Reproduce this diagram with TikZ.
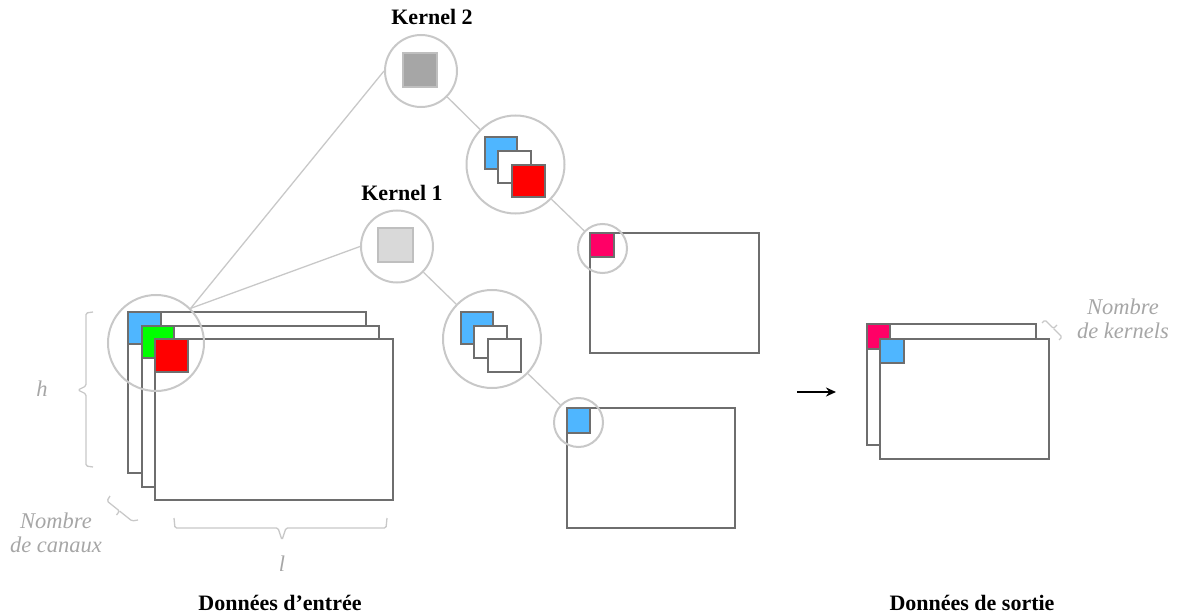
\documentclass[tikz,border=0pt]{standalone}
\usepackage{fontspec}
\setmainfont{Liberation Serif}
\usetikzlibrary{arrows.meta}
\definecolor{dgray}{HTML}{6E6E6E}
\definecolor{lgray}{HTML}{C8C8C8}
\definecolor{tgray}{HTML}{A6A6A6}
\definecolor{cblue}{HTML}{4FB6FF}
\definecolor{cgreen}{HTML}{00FF00}
\definecolor{cred}{HTML}{FF0000}
\definecolor{cpink}{HTML}{FF0066}
\definecolor{kdark}{HTML}{A6A6A6}
\definecolor{klight}{HTML}{D9D9D9}
\definecolor{kborder}{HTML}{BFBFBF}
\tikzset{
  fmap/.style={draw=dgray, line width=2pt, fill=white},
  cell/.style={draw=dgray, line width=2pt},
  ring/.style={circle, draw=lgray, line width=2pt, inner sep=0pt},
  link/.style={draw=lgray, line width=1.3pt},
  brc/.style={draw=lgray, line width=1.3pt, rounded corners=1.5pt},
  boldlabel/.style={font=\fontsize{22}{26}\selectfont\bfseries, inner sep=0pt},
  itlabel/.style={font=\fontsize{22.5}{24}\selectfont\itshape, text=tgray, inner sep=0pt, align=center},
}
\begin{document}
\begin{tikzpicture}[x=1pt,y=-1pt]
\useasboundingbox (0,0) rectangle (1179,615);

% ---------- input stack ----------
\draw[fmap] (128,312) rectangle (366,473);
\fill[cblue] (128,312) rectangle (161,344);
\draw[cell] (128,312) rectangle (161,344);
\draw[fmap] (142,326) rectangle (379,487);
\fill[cgreen] (142,326) rectangle (174,358);
\draw[cell] (142,326) rectangle (174,358);
\draw[fmap] (155,339) rectangle (393,500);
\fill[cred] (155,339) rectangle (188,372);
\draw[cell] (155,339) rectangle (188,372);
\node[ring, minimum size=96pt] (in) at (156,343) {};

% braces of input
\draw[brc] (93,312) -- (86,313) -- (86,386) -- (78,390) -- (86,394) -- (86,466) -- (93,467);
\draw[brc] (174,518) -- (175,528) -- (278,528) -- (282,540) -- (286,528) -- (386,528) -- (387,518);
\draw[brc] (110,496) -- (107,501) -- (119.5,511) -- (116.5,515);
\draw[brc] (119.5,511) -- (132,521) -- (138,520);
\node[itlabel] (hlab) at (42,389) {h};
\node[itlabel] (llab) at (282,564) {l};
\node[itlabel] (canaux) at (56,533) {Nombre\\de canaux};
\node[boldlabel] (inlab) at (280,603) {Données d’entrée};

% ---------- kernel 2 ----------
\node[ring, minimum size=72pt] (k2) at (421,71) {};
\draw[fill=kdark, draw=kborder, line width=2pt] (403,53) rectangle (437,87);
\node[boldlabel] (k2lab) at (432,17) {Kernel 2};
\draw[cell, fill=cblue] (485,137) rectangle (517,169);
\draw[cell, fill=white] (498,151) rectangle (531,183);
\draw[cell, fill=cred] (512,165) rectangle (545,197);
\node[ring, minimum size=98pt] (c2) at (515.5,164.5) {};
\draw[fmap] (590,233) rectangle (759,353);
\draw[cell, fill=cpink] (590,233) rectangle (614,257);
\node[ring, minimum size=49pt] (o1) at (602.5,248.5) {};

% ---------- kernel 1 ----------
\node[ring, minimum size=72pt] (k1) at (397,246.5) {};
\draw[fill=klight, draw=kborder, line width=2pt] (378,228) rectangle (413,262);
\node[boldlabel] (k1lab) at (402,193) {Kernel 1};
\draw[cell, fill=cblue] (461,312) rectangle (493,344);
\draw[cell, fill=white] (474,326) rectangle (507,358);
\draw[cell, fill=white] (488,339) rectangle (521,372);
\node[ring, minimum size=98pt] (c1) at (492,339) {};
\draw[fmap] (567,408) rectangle (735,528);
\draw[cell, fill=cblue] (567,408) rectangle (590,433);
\node[ring, minimum size=49pt] (o2) at (578.5,422.5) {};

% ---------- connectors ----------
\draw[link] (in.45) -- (k2.west);
\draw[link] (in.45) -- (k1.west);
\draw[link] (k2) -- (c2);
\draw[link] (c2) -- (o1);
\draw[link] (k1) -- (c1);
\draw[link] (c1) -- (o2);

% ---------- output ----------
\coordinate (arrs) at (797,392);
\coordinate (arre) at (836,392);
\draw[line width=2.6pt, -{Stealth[length=10pt, width=9pt]}] (arrs) -- (arre);
\draw[fmap] (867,324) rectangle (1036,445);
\draw[cell, fill=cpink] (867,324) rectangle (890,349);
\draw[fmap] (880,339) rectangle (1049,459);
\draw[cell, fill=cblue] (880,339) rectangle (904,363);
\draw[brc] (1042,323) -- (1045,320) -- (1053.5,328.5) -- (1057,325);
\draw[brc] (1053.5,328.5) -- (1062,337) -- (1059,340);
\node[itlabel] (kern) at (1123,318.5) {Nombre\\de kernels};
\node[boldlabel] (outlab) at (972,603) {Données de sortie};
\end{tikzpicture}
\end{document}
